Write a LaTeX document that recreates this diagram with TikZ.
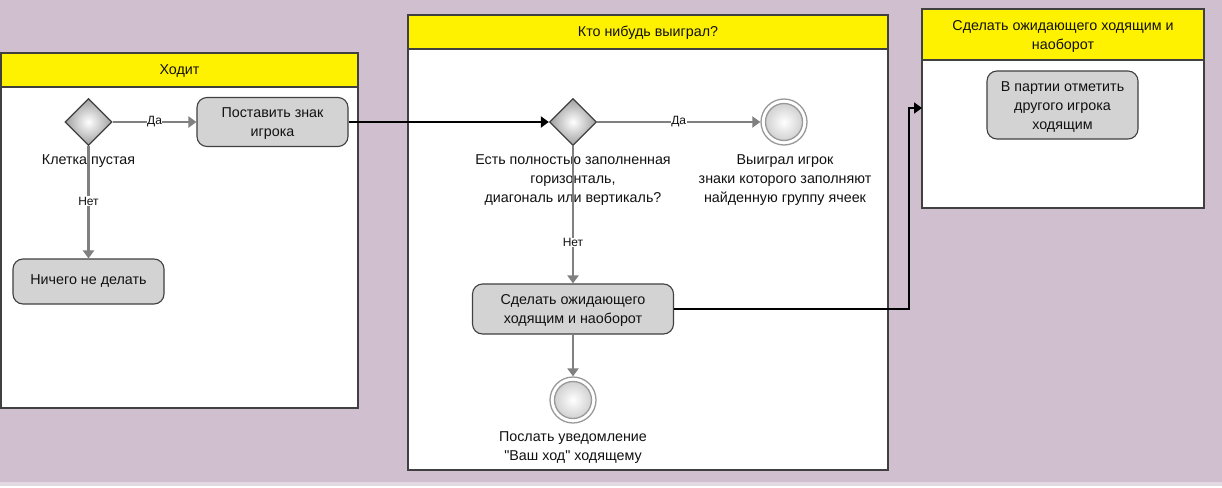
\documentclass[tikz,border=0pt]{standalone}
\usepackage{fontspec}
\setmainfont{Liberation Sans}[Ligatures=TeXOff]
\usetikzlibrary{shapes.geometric,arrows.meta,calc}
\definecolor{bgc}{HTML}{D0BFCE}
\definecolor{bgs}{HTML}{E2D9E1}
\definecolor{lanebd}{HTML}{404040}
\definecolor{taskf}{HTML}{D3D3D3}
\definecolor{flowc}{HTML}{808080}
\definecolor{txt}{HTML}{111111}
\begin{document}
\begin{tikzpicture}[x=1pt,y=-1pt, font=\fontsize{14.3}{19}\selectfont, text=txt,
 lane/.style={draw=lanebd, line width=1.4pt, fill=white},
 header/.style={draw=lanebd, line width=1.4pt, fill=yellow},
 task/.style={draw=lanebd, line width=1.1pt, fill=taskf, rounded corners=10pt, align=center, inner sep=0pt, minimum width=151pt, minimum height=49pt},
 gate/.style={diamond, draw=lanebd, line width=1.3pt, inner color=white, outer color=gray!75, minimum width=47pt, minimum height=47pt, inner sep=0pt},
 endev/.style={circle, draw=flowc!80, line width=1.3pt, fill=white, minimum size=46pt, inner sep=0pt,
   path picture={\shadedraw[draw=flowc!80, line width=1.3pt, inner color=white, outer color=gray!45] (path picture bounding box.center) circle (18.5pt);}},
 flow/.style={draw=flowc, line width=2.2pt, -{Triangle[length=8pt,width=11pt]}},
 mflow/.style={draw=black, line width=2.2pt, -{Triangle[length=8pt,width=11pt]}},
 elabel/.style={font=\fontsize{12}{12}\selectfont, fill=white, inner sep=0.5pt},
 caption/.style={align=center, inner sep=0pt}]
\useasboundingbox (0,0) rectangle (1222,487);
\fill[bgc] (0,0) rectangle (1222,482);
\fill[bgs] (0,482) rectangle (1222,486);
\fill[white] (0,486) rectangle (1222,487);

% lanes
\draw[lane] (1,53) rectangle (358,408);
\draw[header] (1,53) rectangle (358,87);
\node (h1) at (179.5,71) {Ходит};

\draw[lane] (408,15) rectangle (888,470);
\draw[header] (408,15) rectangle (888,49);
\node (h2) at (648,33) {Кто нибудь выиграл?};

\draw[lane] (922,9) rectangle (1204,208);
\draw[header] (922,9) rectangle (1204,60);
\node[align=center] (h3) at (1063,36) {Сделать ожидающего ходящим и\\наоборот};

% lane 1
\node[gate] (g1) at (88.5,122) {};
\node[caption] (g1l) at (88.5,161) {Клетка пустая};
\node[task] (t1) at (272.5,122) {\strut Поставить знак\\игрока};
\node[task, minimum height=45pt] (t0) at (88.5,281.5) {Ничего не делать};

% lane 2
\node[gate] (g2) at (573,122) {};
\node[caption] (g2l) at (573,180.5) {Есть полностью заполненная\\горизонталь,\\диагональ или вертикаль?};
\node[endev] (e1) at (784,122) {};
\node[caption] (e1l) at (785,180.5) {Выиграл игрок\\знаки которого заполняют\\найденную группу ячеек};
\node[task, minimum width=201pt, minimum height=50pt] (t2) at (573,309) {\strut Сделать ожидающего\\ходящим и наоборот};
\node[endev] (e2) at (573,400) {};
\node[caption] (e2l) at (573,447.5) {Послать уведомление\\"Ваш ход" ходящему};

% lane 3
\node[task, minimum height=68pt] (t3) at (1062.5,105) {\strut В партии отметить\\другого игрока\\ходящим};
\coordinate (l3in) at (922,108);

% flows
\draw[flow] (g1.east) -- node[elabel] {Да} (t1.west);
\draw[flow] (g1.south) -- node[elabel, pos=0.49] {Нет} (t0.north);
\draw[mflow] (t1.east) -- (g2.west);
\draw[flow] (g2.east) -- node[elabel] {Да} (e1.west);
\draw[flow] (g2.south) -- node[elabel, pos=0.7] {Нет} (t2.north);
\draw[flow] (t2.south) -- (e2.north);
\draw[mflow] (t2.east) -- ++(235,0) |- (l3in);
\end{tikzpicture}
\end{document}
